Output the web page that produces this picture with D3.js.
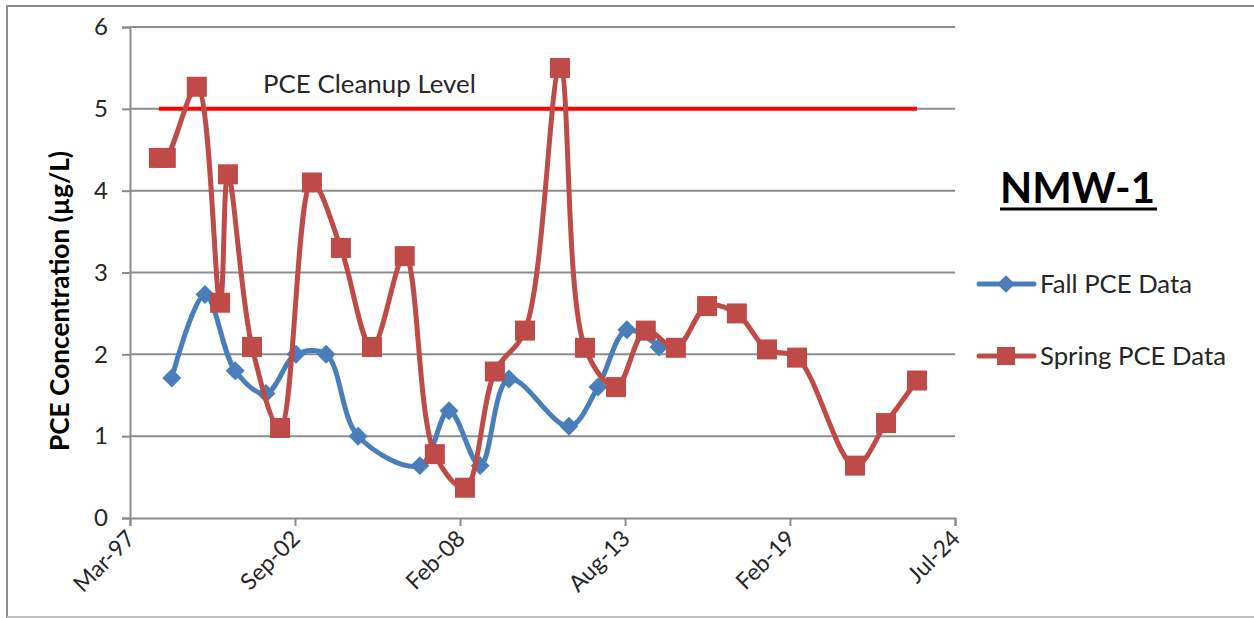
<!DOCTYPE html>
<html>
<head>
<meta charset="utf-8">
<script src="https://cdn.jsdelivr.net/npm/d3@7"></script>
<style>
  html, body { margin: 0; padding: 0; background: #fff; }
  svg { display: block; font-family: Lato, "Noto Sans", sans-serif; }
</style>
</head>
<body>
<svg id="chart" width="1254" height="618"></svg>
<script>
// ---- data ----
const springDates = ["1998-02-24","1998-05-19","1999-05-30","2000-03-07","2000-06-10","2001-03-29","2002-03-04","2003-03-25","2004-03-10","2005-03-22","2006-04-23","2007-04-23","2008-04-22","2009-04-20","2010-04-20","2011-06-18","2012-04-16","2013-04-27","2014-04-23","2015-04-23","2016-05-05","2017-05-01","2018-05-01","2019-05-01","2021-04-02","2022-04-13","2023-04-23"];
const springValues = [4.4,4.4,5.27,2.63,4.2,2.09,1.1,4.1,3.3,2.09,3.2,0.78,0.37,1.79,2.29,5.5,2.08,1.6,2.29,2.08,2.59,2.5,2.06,1.96,0.64,1.16,1.68];
const fallDates = ["1998-07-31","1999-09-06","2000-09-06","2001-09-13","2002-09-13","2003-09-13","2004-10-05","2006-10-23","2007-10-12","2008-10-23","2009-10-08","2011-10-05","2012-09-20","2013-09-06","2014-10-01"];
const fallValues = [1.71,2.73,1.8,1.52,2.0,2.0,1.0,0.64,1.31,0.64,1.7,1.12,1.6,2.3,2.09];
const cleanupLevel = 5;
const xDomain = ["1997-03-11","2024-07-27"];
const xTickStepDays = 2000;
const yTicks = [0,1,2,3,4,5,6];
const seriesNames = ["Fall PCE Data","Spring PCE Data"];
const chartTitle = "NMW-1";
const yAxisTitle = "PCE Concentration (µg/L)";
const cleanupLabel = "PCE Cleanup Level";

// ---- setup ----
const parse = d3.timeParse("%Y-%m-%d");
const svg = d3.select("#chart");
const pLeft = 130, pRight = 955, pTop = 27, pBottom = 518;
const blue = "#4A7EBB", red = "#BE4B48", grid = "#8C8C8C", textCol = "#262626";

const x = d3.scaleTime().domain(xDomain.map(parse)).range([pLeft, pRight]);
const y = d3.scaleLinear().domain([0, 6]).range([pBottom, pTop]);

function fit(sel, w) {
  const n = sel.node();
  const fs = parseFloat(sel.attr("font-size"));
  const len = n.getComputedTextLength();
  if (len > 0) sel.attr("font-size", fs * w / len);
  return sel;
}

// outer border
svg.append("path").attr("d", "M7,618 L7,6 L1254,6").attr("fill","none").attr("stroke","#8C8C8C").attr("stroke-width",2);
svg.append("line").attr("x1",7).attr("x2",1254).attr("y1",617).attr("y2",617).attr("stroke","#BFBFBF").attr("stroke-width",2);

// gridlines
svg.append("g").selectAll("line").data(yTicks.filter(d => d > 0)).join("line")
  .attr("x1", pLeft).attr("x2", pRight)
  .attr("y1", d => y(d)).attr("y2", d => y(d))
  .attr("stroke", grid).attr("stroke-width", 2);

// y axis
const yAxis = d3.axisLeft(y).tickValues(yTicks).tickSize(8).tickPadding(14).tickFormat(d3.format("d"));
const gy = svg.append("g").attr("transform", `translate(${pLeft},0)`).call(yAxis);
gy.select(".domain").attr("stroke", grid).attr("stroke-width", 2);
gy.selectAll(".tick line").attr("stroke", grid).attr("stroke-width", 2);
gy.selectAll(".tick text").attr("font-size", 24).attr("fill", textCol).attr("font-family", "Lato, sans-serif");

// x axis
const start = x.domain()[0];
const xTickVals = d3.range(0, 6).map(i => d3.timeDay.offset(start, i * xTickStepDays));
const xAxis = d3.axisBottom(x).tickValues(xTickVals).tickSize(8).tickFormat(d3.timeFormat("%b-%y"));
const gx = svg.append("g").attr("transform", `translate(0,${pBottom})`).call(xAxis);
gx.select(".domain").attr("stroke", grid).attr("stroke-width", 2);
gx.selectAll(".tick line").attr("stroke", grid).attr("stroke-width", 2);
gx.selectAll(".tick text")
  .attr("font-size", 23).attr("fill", textCol).attr("font-family", "Lato, sans-serif")
  .attr("text-anchor", "end").attr("dy", null).attr("y", 0)
  .attr("transform", "translate(6,22) rotate(-45)");

// y axis title
svg.append("text").attr("transform", `translate(69,301) rotate(-90)`)
  .attr("text-anchor", "middle").attr("font-size", 24).attr("font-weight", "bold")
  .attr("fill", "#000").text(yAxisTitle).call(s => fit(s, 300));

// cleanup level line
const sd = springDates.map(parse);
svg.append("line").attr("x1", x(sd[0])).attr("x2", x(sd[sd.length-1]))
  .attr("y1", y(cleanupLevel)).attr("y2", y(cleanupLevel))
  .attr("stroke", "#FF0000").attr("stroke-width", 4);
svg.append("text").attr("x", 263).attr("y", 93).attr("font-size", 26).attr("fill", textCol)
  .text(cleanupLabel).call(s => fit(s, 213));

// series
const line = d3.line().x(d => x(d[0])).y(d => y(d[1])).curve(d3.curveCatmullRom.alpha(0.5));
const fallData = fallDates.map((d, i) => [parse(d), fallValues[i]]);
const springData = springDates.map((d, i) => [parse(d), springValues[i]]);

svg.append("path").datum(fallData).attr("d", line).attr("fill", "none").attr("stroke", blue).attr("stroke-width", 5).attr("stroke-linejoin","round");
svg.append("g").selectAll("path").data(fallData).join("path")
  .attr("d", d3.symbol(d3.symbolDiamond2, 230))
  .attr("transform", d => `translate(${x(d[0])},${y(d[1])})`)
  .attr("fill", blue);

svg.append("path").datum(springData).attr("d", line).attr("fill", "none").attr("stroke", red).attr("stroke-width", 5).attr("stroke-linejoin","round");
svg.append("g").selectAll("rect").data(springData).join("rect")
  .attr("x", d => x(d[0]) - 10).attr("y", d => y(d[1]) - 10)
  .attr("width", 20).attr("height", 20).attr("fill", red);

// title
svg.append("text").attr("x", 1000).attr("y", 203).attr("font-size", 44).attr("font-weight", "bold")
  .attr("fill", "#000").text(chartTitle).call(s => fit(s, 155));
svg.append("line").attr("x1", 1000).attr("x2", 1157).attr("y1", 209).attr("y2", 209).attr("stroke", "#000").attr("stroke-width", 3);

// legend
const legendY = [284, 356];
const legendW = [152, 186];
const lg = svg.append("g");
seriesNames.forEach((name, i) => {
  const c = i === 0 ? blue : red;
  lg.append("line").attr("x1", 979).attr("x2", 1034).attr("y1", legendY[i]).attr("y2", legendY[i])
    .attr("stroke", c).attr("stroke-width", 5).attr("stroke-linecap", "round");
  if (i === 0) {
    lg.append("path").attr("d", d3.symbol(d3.symbolDiamond2, 200))
      .attr("transform", `translate(1006,${legendY[i]})`).attr("fill", c);
  } else {
    lg.append("rect").attr("x", 997).attr("y", legendY[i] - 9).attr("width", 18).attr("height", 18).attr("fill", c);
  }
  lg.append("text").attr("x", 1040).attr("y", legendY[i] + 9).attr("font-size", 24).attr("fill", textCol)
    .text(name).call(s => fit(s, legendW[i]));
});
</script>
</body>
</html>
